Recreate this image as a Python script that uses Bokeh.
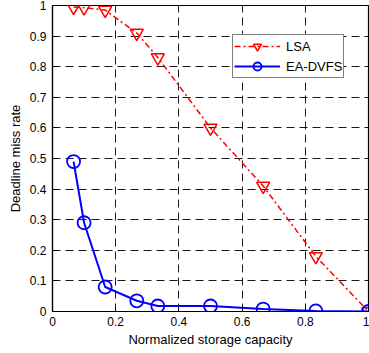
from bokeh.plotting import figure
from bokeh.models import Range1d, Legend, LegendItem, FixedTicker
from bokeh.embed import file_html
from bokeh.resources import INLINE

# Data
capacity = [0.0667, 0.1, 0.1667, 0.2667, 0.3333, 0.5, 0.6667, 0.8333, 1.0]
lsa = [0.995, 0.993, 0.985, 0.91, 0.83, 0.60, 0.41, 0.18, 0.0]
ea_dvfs = [0.49, 0.29, 0.08, 0.035, 0.018, 0.018, 0.008, 0.002, 0.0]
x_ticks = [0, 0.2, 0.4, 0.6, 0.8, 1.0]
y_ticks = [0, 0.1, 0.2, 0.3, 0.4, 0.5, 0.6, 0.7, 0.8, 0.9, 1.0]
x_label = "Normalized storage capacity"
y_label = "Deadline miss rate"

FONT = "Liberation Sans"

p = figure(width=369, height=353, output_backend="svg", toolbar_location=None,
           x_range=Range1d(0, 1), y_range=Range1d(0, 1),
           min_border_left=52, min_border_right=1, min_border_top=5, min_border_bottom=42)

p.background_fill_color = "white"
p.border_fill_color = "white"
p.outline_line_color = "black"
p.outline_line_width = 1.2
p.outline_line_alpha = 1

for ax in (p.xaxis[0], p.yaxis[0]):
    ax.major_label_text_font = FONT
    ax.major_label_text_font_size = "12px"
    ax.major_label_text_color = "black"
    ax.axis_label_text_font = FONT
    ax.axis_label_text_font_size = "13px"
    ax.axis_label_text_font_style = "normal"
    ax.axis_label_text_color = "black"
    ax.major_tick_in = 5
    ax.major_tick_out = 0
    ax.minor_tick_in = 0
    ax.minor_tick_out = 0
    ax.axis_line_color = "black"
    ax.axis_line_width = 1.2
    ax.major_tick_line_color = "black"

p.xaxis[0].ticker = FixedTicker(ticks=x_ticks)
p.yaxis[0].ticker = FixedTicker(ticks=y_ticks)
p.xaxis[0].major_label_overrides = {1.0: "1", 0: "0"}
p.yaxis[0].major_label_overrides = {1.0: "1", 0: "0"}
p.xaxis[0].axis_label = x_label
p.yaxis[0].axis_label = y_label
p.xaxis[0].major_label_standoff = 5
p.xaxis[0].axis_label_standoff = 3
p.yaxis[0].major_label_standoff = 6
p.yaxis[0].axis_label_standoff = 4

for g in (p.xgrid[0], p.ygrid[0]):
    g.grid_line_color = "black"
    g.grid_line_dash = "8 5"
    g.grid_line_width = 1
    g.grid_line_alpha = 0.9

l1 = p.line(capacity, lsa, line_color="#ff0000", line_width=1.5, line_dash="6 3 2 3")
m1 = p.scatter(capacity, lsa, marker="inverted_triangle", size=13, line_color="#ff0000",
               line_width=1.5, fill_alpha=0)
l2 = p.line(capacity, ea_dvfs, line_color="#0000ff", line_width=2)
m2 = p.scatter(capacity, ea_dvfs, marker="circle", size=13, line_color="#0000ff",
               line_width=1.8, fill_alpha=0)

legend = Legend(items=[LegendItem(label="LSA", renderers=[l1, m1]),
                       LegendItem(label="EA-DVFS", renderers=[l2, m2])],
                location=(180, 233))
legend.label_text_font = FONT
legend.label_text_font_size = "13px"
legend.label_text_color = "black"
legend.glyph_width = 46
legend.glyph_height = 20
legend.label_height = 20
legend.spacing = 0
legend.padding = 1
legend.margin = 0
legend.label_standoff = 6
legend.border_line_color = "black"
legend.border_line_width = 1
legend.background_fill_alpha = 1
p.add_layout(legend, "center")

open("out.html", "w").write(file_html(p, INLINE))
